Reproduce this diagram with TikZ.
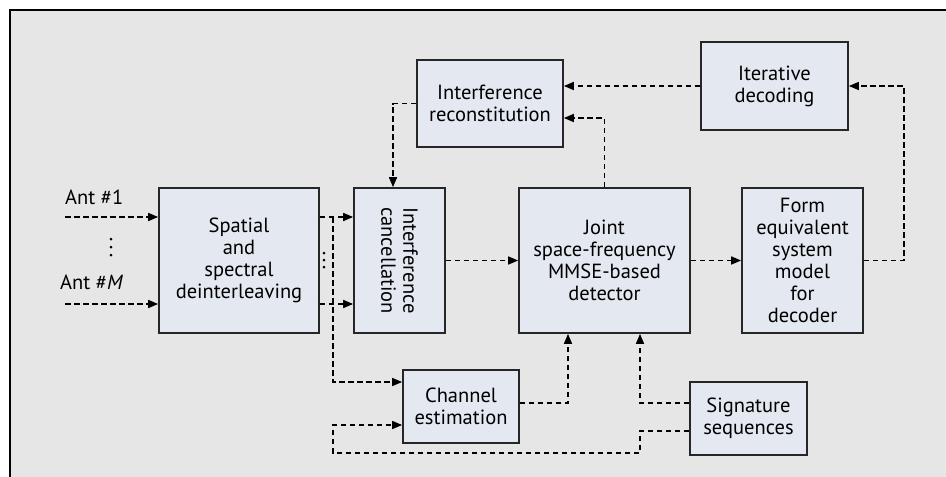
\documentclass[tikz,border=0pt]{standalone}
\usepackage{fontspec}
\setmainfont{PT Sans}
\usetikzlibrary{arrows.meta,calc}
\definecolor{panel}{HTML}{E6E6E6}
\definecolor{boxfill}{HTML}{E4E8F0}
\tikzset{
  blk/.style={draw=black!85, line width=1.7pt, fill=boxfill, align=center, inner sep=0pt,
    font=\fontsize{20.5}{22}\selectfont},
  link/.style={line width=1.6pt, dash pattern=on 5.5pt off 3.5pt},
  conn/.style={link, -{Triangle[length=10pt,width=8pt]}},
  lbl/.style={font=\fontsize{20.5}{22}\selectfont, inner sep=0pt},
  dot/.style={fill=black, circle, inner sep=0pt, minimum size=3pt},
}
\begin{document}
\begin{tikzpicture}[x=1pt, y=-1pt]
\useasboundingbox (0,0) rectangle (946,477);
% panel with top and left rule
\fill[panel] (10,10) rectangle (946,477);
\draw[line width=1.8pt] (10,477) -- (10,10) -- (946,10);

% blocks
\node[blk, minimum width=160pt, minimum height=145pt] (sp) at (239,260.5) {Spatial\\and\\spectral\\deinterleaving};
\node[blk, minimum width=91pt, minimum height=145pt] (ic) at (399.5,260.5) {};
\node[lbl, rotate=-90, align=center] (ictext) at (ic.center) {Interference\\cancellation};
\node[blk, minimum width=171pt, minimum height=145pt] (jd) at (604.5,260.5) {Joint\\space-frequency\\MMSE-based\\detector};
\node[blk, minimum width=121pt, minimum height=145pt] (fe) at (802.5,260.5) {Form\\equivalent\\system\\model\\for\\decoder};
\node[blk, minimum width=146pt, minimum height=87pt] (ir) at (490,103.5) {Interference\\reconstitution};
\node[blk, minimum width=147pt, minimum height=88pt] (id) at (774.5,86) {Iterative\\decoding};
\node[blk, minimum width=116pt, minimum height=73pt] (ce) at (461,406.5) {Channel\\estimation};
\node[blk, minimum width=117pt, minimum height=73pt] (ss) at (748.5,418.5) {Signature\\sequences};

% antenna inputs
\coordinate (a1) at (65,217);
\coordinate (aM) at (65,304);
\node[lbl, anchor=west] (l1) at (65,197) {Ant \#1};
\node[lbl, anchor=west] (lM) at (60,282) {Ant \#\textit{M}};
\node[dot] (d1) at (111,239) {};
\node[dot] (d2) at (111,247) {};
\node[dot] (d3) at (111,255) {};
\node[dot] (e1) at (324,253) {};
\node[dot] (e2) at (324,260) {};
\node[dot] (e3) at (324,267) {};

% routing lanes
\coordinate (busx) at (333,0);
\coordinate (rcx) at (393,0);
\coordinate (chx) at (568,0);
\coordinate (sigx) at (640,0);
\coordinate (fbx) at (904,0);
\coordinate (v118) at (0,118);
\coordinate (v382) at (0,382);
\coordinate (v403) at (0,403);
\coordinate (v425) at (0,425);
\coordinate (v431) at (0,431);
\coordinate (v453) at (0,453);

\draw[conn] (a1) -- (sp.west |- a1);
\draw[conn] (aM) -- (sp.west |- aM);
\draw[conn] (sp.east |- a1) -- (ic.west |- a1);
\draw[conn] (sp.east |- aM) -- (ic.west |- aM);
\draw[conn] (busx |- a1) -- (busx |- v382) -- (ce.west |- v382);
\draw[conn] (ic.east) -- (jd.west);
\draw[conn] (jd.east) -- (fe.west);
\draw[conn] (fe.east) -- (fe.east -| fbx) -- (fbx |- id.east) -- (id.east);
\draw[conn] (id.west) -- (ir.east |- id.west);
\draw[conn] (jd.north) -- (jd.north |- v118) -- (ir.east |- v118);
\draw[conn] (ir.west) -- (ir.west -| rcx) -- (rcx |- ic.north);
\draw[conn] (ce.east |- v403) -- (chx |- v403) -- (chx |- jd.south);
\draw[conn] (ss.west |- v403) -- (sigx |- v403) -- (sigx |- jd.south);
\draw[conn] (ss.west |- v431) -- (sigx |- v431) -- (sigx |- v453) -- (busx |- v453) -- (busx |- v425) -- (ce.west |- v425);
\end{tikzpicture}
\end{document}
